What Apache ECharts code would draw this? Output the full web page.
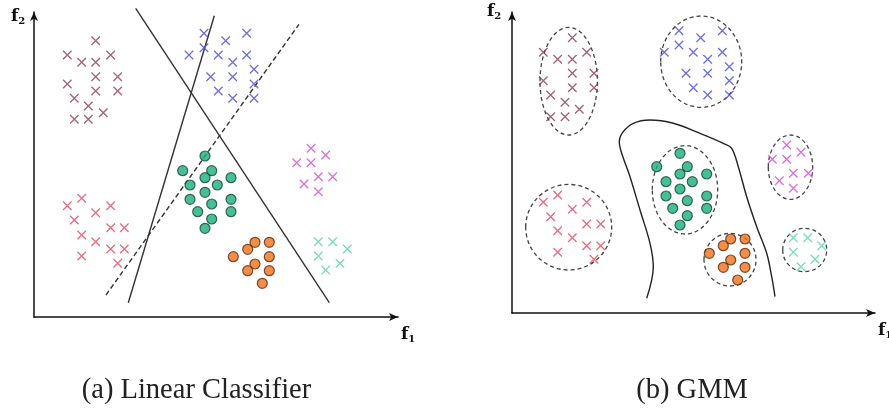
<!DOCTYPE html>
<html><head><meta charset="utf-8">
<script src="https://cdn.jsdelivr.net/npm/echarts@6/dist/echarts.min.js"></script>
<style>html,body{margin:0;padding:0;background:#fff}#c{width:889px;height:409px}</style>
</head><body><div id="c"></div>
<script>
// ---------- Panel (a): Linear Classifier ----------
const aBrown = [[61.7,276.3],[33.3,262],[47.7,254.7],[61.7,254.7],[76.7,262],[61.7,240.3],[83.7,240.3],[33.3,233],[61.7,226],[83.7,226],[40.3,218.7],[54.3,211],[69.3,204.3],[40.3,197.7],[54.3,197.7]];
const aBlue = [[170,283.7],[212.7,283.7],[191.7,276.3],[170,269.3],[155,262],[184.3,262],[212.7,262],[198.7,254.7],[220,247.7],[176.7,240.3],[198.7,240.3],[220,233],[184.3,226],[198.7,218.7],[220,218.7]];
const aMagenta = [[277,168.7],[291.7,162],[262.7,154.3],[277,154.3],[284.3,140.3],[298.7,140.3],[270,133],[284.3,125.3]];
const aRed = [[47.7,118.7],[33.3,111.3],[76.7,111.3],[61.7,104.3],[40.3,97],[76.7,89.3],[90.3,89.3],[47.7,82],[61.7,75.3],[76.7,68],[90.3,68],[47.7,61],[83.7,53.7]];
const aTeal = [[284.3,75.3],[298.7,75.3],[313.3,68],[284.3,61],[306,53.7],[291.7,47]];
const aGreen = [[171,161],[148.7,146.3],[177.7,146.3],[197,139.3],[156,132],[171,139.3],[183.3,132],[171,124.7],[156,117.7],[197,117.7],[177.7,113],[163.7,105.3],[197,105.3],[177.7,98],[171,88.7]];
const aOrange = [[221,74.7],[235.3,74.7],[213.7,67.7],[199.3,60.3],[235.3,60.3],[221,53],[213.7,46.3],[235.3,46.3],[228.3,33.7]];
const aLine1 = [[94.3,14.3],[180.3,301.3]];
const aLine2 = [[101.7,308.7],[295.3,14.3]];
const aDashed = [[72,22],[265,292.7]];

// ---------- Panel (b): GMM ----------
const bBrown = [[60.3,275.3],[31.3,260.7],[45.7,253.7],[60.3,253.7],[74.7,260.7],[60.3,239.7],[82,239.7],[31.3,232.3],[60.3,225.3],[82,225.3],[38.7,218],[53,210.7],[67.3,203.7],[38.7,196.3],[53,196.3]];
const bBlue = [[167,282.3],[210.3,282.3],[188.7,275.3],[167,268],[152.3,260.7],[181.3,260.7],[210.3,260.7],[195.7,253.7],[217.3,246.3],[174,239.7],[195.7,239.7],[217.3,232.3],[181.3,225.3],[195.7,218],[217.3,218]];
const bMagenta = [[274.7,168],[289,160.7],[260.3,153.7],[274.7,153.7],[281.3,139.7],[296.3,139.7],[267.3,132.3],[281.3,124.7]];
const bRed = [[45.7,118],[31.3,110.7],[74.7,110.7],[60.3,103.7],[38.7,96.3],[74.7,89],[88.7,89],[45.7,82.3],[60.3,75.3],[74.7,67.3],[88.7,67.3],[45.7,60.7],[82,53.7]];
const bTeal = [[281.3,75.3],[295.7,75.3],[309.7,67.3],[281.3,60.7],[303,53.7],[289,46.3]];
const bGreen = [[168,159.7],[175.3,146.3],[144.7,146.3],[168,139],[194.7,139],[154,131.3],[180.3,131.3],[168,124],[154,117],[194.7,117],[175.3,112.3],[160.7,104.7],[194.7,104.7],[175.3,97.3],[168,88]];
const bOrange = [[218.7,74],[233,74],[211.3,67.3],[197.3,59.7],[233,59.7],[218.7,53],[211.3,45.7],[233,45.7],[225.7,33]];
// ellipses: [centerX, centerY, radiusX, radiusY]
const bEllipses = [[56.7,231.8,28.7,53.8],[189.2,251.3,40.5,45.7],[278.5,145.8,22.2,32.2],[56.7,85.8,43,42.8],[292.7,63,22,21.7],[173,123.2,32.7,44.2],[218,53.3,26,26.3]];
const bBoundary = [[134.7,14.7],[141.3,46.3],[138,69.7],[128,103],[118,136.3],[109.7,159.7],[107.3,171.3],[111.3,181.3],[121.3,189.7],[138,193],[161.3,189.7],[188,179.7],[211.3,169.7],[219.7,164.7],[226.3,146.3],[234.7,116.3],[244.7,86.3],[254.7,59.7],[259.7,36.3],[263,16.3]];

const captions = ['(a) Linear Classifier', '(b) GMM'];

const COL = {brown:'#8c3b52', blue:'#4a4ad6', magenta:'#d64ad6', red:'#e0485a', teal:'#5ccfae', green:'#18ae7c', orange:'#f0701a'};
const CROSS = 'path://M0,0L10,10M0,10L10,0';

function crosses(data, color, idx) {
  return {type:'scatter', xAxisIndex:idx, yAxisIndex:idx, data, symbol:CROSS, symbolSize:8.5,
    itemStyle:{color:'rgba(0,0,0,0)', borderColor:color, borderWidth:1.3}, silent:true, z:3};
}
function dots(data, color, border, idx) {
  return {type:'scatter', xAxisIndex:idx, yAxisIndex:idx, data, symbol:'circle', symbolSize:10,
    itemStyle:{color, borderColor:border, borderWidth:1.2}, silent:true, z:4};
}
function line(data, idx, dashed) {
  return {type:'line', xAxisIndex:idx, yAxisIndex:idx, data, symbol:'none', clip:false, silent:true,
    lineStyle:{color:'#333', width:1.4, type: dashed ? [5,3] : 'solid'}, z:2};
}

const axisCommon = {
  axisLine:{show:true, lineStyle:{color:'#111', width:1.5}, symbol:['none','arrow'], symbolSize:[6,9]},
  axisTick:{show:false}, axisLabel:{show:false}, splitLine:{show:false}
};
const fRich = {b:{fontFamily:'DejaVu Serif', fontWeight:'bold', fontSize:17, fill:'#111'}, s:{fontFamily:'DejaVu Serif', fontWeight:'bold', fontSize:10, fill:'#111', padding:[10,0,0,0]}};

const chart = echarts.init(document.getElementById('c'), null, {renderer:'canvas'});
chart.setOption({
  backgroundColor:'#fff',
  animation:false,
  grid:[
    {left:34, top:12, width:364, height:305},
    {left:512, top:12, width:363, height:301}
  ],
  xAxis:[
    Object.assign({type:'value', gridIndex:0, min:0, max:364}, axisCommon),
    Object.assign({type:'value', gridIndex:1, min:0, max:363}, axisCommon)
  ],
  yAxis:[
    Object.assign({type:'value', gridIndex:0, min:0, max:305}, axisCommon),
    Object.assign({type:'value', gridIndex:1, min:0, max:301}, axisCommon)
  ],
  graphic:[
    {type:'text', left:11, top:8, style:{text:'{b|f}{s|2}', rich:fRich}},
    {type:'text', left:401, top:326, style:{text:'{b|f}{s|1}', rich:fRich}},
    {type:'text', left:487, top:3, style:{text:'{b|f}{s|2}', rich:fRich}},
    {type:'text', left:878, top:322, style:{text:'{b|f}{s|1}', rich:fRich}},
    {type:'text', x:196.5, y:391, style:{text:captions[0], fontFamily:'Liberation Serif', fontSize:28.5, fill:'#222', align:'center', verticalAlign:'middle'}},
    {type:'text', x:692, y:391, style:{text:captions[1], fontFamily:'Liberation Serif', fontSize:28.5, fill:'#222', align:'center', verticalAlign:'middle'}}
  ],
  series:[
    crosses(aBrown, COL.brown, 0), crosses(aBlue, COL.blue, 0), crosses(aMagenta, COL.magenta, 0),
    crosses(aRed, COL.red, 0), crosses(aTeal, COL.teal, 0),
    dots(aGreen, COL.green, '#15463a', 0), dots(aOrange, COL.orange, '#5a2a10', 0),
    line(aLine1, 0, false), line(aLine2, 0, false), line(aDashed, 0, true),
    crosses(bBrown, COL.brown, 1), crosses(bBlue, COL.blue, 1), crosses(bMagenta, COL.magenta, 1),
    crosses(bRed, COL.red, 1), crosses(bTeal, COL.teal, 1),
    dots(bGreen, COL.green, '#15463a', 1), dots(bOrange, COL.orange, '#5a2a10', 1),
    {type:'line', xAxisIndex:1, yAxisIndex:1, data:bBoundary, symbol:'none', smooth:0.35, clip:false, silent:true,
      lineStyle:{color:'#222', width:1.4}, z:2},
    {type:'custom', xAxisIndex:1, yAxisIndex:1, data:bEllipses, silent:true, clip:false, z:1,
      renderItem:function(params, api){
        const c = api.coord([api.value(0), api.value(1)]);
        const s = api.size([api.value(2), api.value(3)]);
        return {type:'ellipse', shape:{cx:c[0], cy:c[1], rx:s[0], ry:s[1]},
          style:{fill:'none', stroke:'#444', lineWidth:1.3, lineDash:[4,3]}};
      }}
  ]
});
</script></body></html>
